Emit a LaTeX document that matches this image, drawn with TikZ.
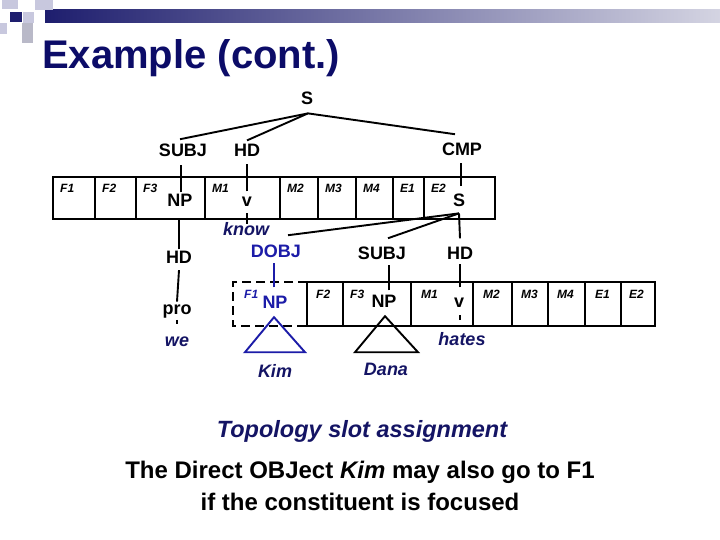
\documentclass[tikz,border=0pt]{standalone}
\usepackage{fontspec}
\setmainfont{Liberation Sans}
\definecolor{navy}{RGB}{20,20,100}
\definecolor{titlec}{RGB}{12,12,104}
\definecolor{dblue}{RGB}{28,28,168}
\definecolor{sqlight}{RGB}{200,200,222}
\definecolor{sqmid}{RGB}{125,125,168}
\definecolor{sqdark}{RGB}{30,30,110}
\definecolor{sqgray}{RGB}{185,185,200}
\definecolor{barend}{RGB}{212,212,226}
\begin{document}
\begin{tikzpicture}[x=1pt,y=-1pt,
 lab/.style={font=\bfseries\fontsize{18}{20}\selectfont, inner sep=0pt, anchor=base},
 cellt/.style={font=\bfseries\itshape\fontsize{12}{13}\selectfont, inner sep=0pt, anchor=base west},
 word/.style={font=\bfseries\itshape\fontsize{18}{20}\selectfont, text=navy, inner sep=0pt, anchor=base},
 edge/.style={line width=1.9pt},
 boxline/.style={line width=1.9pt},
]
\useasboundingbox (0,0) rectangle (720,540);
\fill[white] (0,0) rectangle (720,540);
% header decoration
\shade[left color=sqdark, middle color=sqmid, right color=barend] (45,10) rectangle (720,23);
\fill[sqlight] (2,0) rectangle (18,9);
\fill[sqlight] (35,0) rectangle (53,10);
\fill[sqdark] (10,12) rectangle (22,22);
\fill[sqlight] (23,12) rectangle (34,23);
\fill[sqlight] (0,23) rectangle (7,34);
\fill[sqgray] (22,23) rectangle (33,43);

% title
\node[font=\bfseries\fontsize{40}{44}\selectfont, text=titlec, inner sep=0pt, anchor=base west] (title) at (42,69) {Example (cont.)};

% upper tree
\node[lab] (S) at (307,105) {S};
\node[lab] (subjA) at (183,157) {SUBJ};
\node[lab] (hdA) at (247,157) {HD};
\node[lab] (cmp) at (462,156) {CMP};
\coordinate (apexA) at ([xshift=1pt,yshift=-8pt]S.south);
\draw[edge] ([yshift=5pt,xshift=-3pt]subjA.north) -- (apexA) -- ([xshift=-7pt,yshift=9pt]cmp.north);
\draw[edge] (apexA) -- ([yshift=4pt]hdA.north);

% upper topology row
\draw[boxline] (53,177) rectangle (495,219);
\foreach \x in {95,136,205,280,318,356,393,424} \draw[boxline] (\x,177) -- (\x,219);
\foreach \t/\x in {F1/53,F2/95,F3/136,M1/205,M2/280,M3/318,M4/356,E1/393,E2/424}
  \node[cellt] (up\t) at (\x+7,193) {\t};

\node[lab] (npA) at (180,207) {NP};
\node[lab] (vA) at (247,207) {v};
\node[lab] (sB) at (459,207) {S};
\draw[edge] ([xshift=1pt,yshift=2pt]npA.north) -- ([xshift=1pt,yshift=29pt]npA.north);
\draw[edge] ([yshift=6pt]vA.north) -- ([yshift=33pt]vA.north);
\draw[edge] ([xshift=2pt,yshift=8pt]sB.north) -- ([xshift=2pt,yshift=31pt]sB.north);

% left branch: HD - pro - we
\node[lab] (hdL) at (179,263) {HD};
\node[lab] (proN) at (177,314) {pro};
\node[word] (weN) at (177,346) {we};
\draw[edge] ([yshift=1pt]hdL.north) -- ([yshift=31pt]hdL.north);
\draw[edge] ([yshift=-7pt]hdL.south) -- ([yshift=2.5pt]proN.north);
\draw[edge] ([yshift=-2pt]proN.south) -- ([yshift=-6pt]proN.south);

% know
\node[word] (knowN) at (246,236) {know};
\draw[edge] ([yshift=-6pt]vA.south) -- ([yshift=-17pt]vA.south);

% lower tree
\coordinate (apexB) at ([yshift=-6pt]sB.south);
\node[lab, text=dblue] (dobj) at (276,257) {DOBJ};
\node[lab] (subjB) at (382,259) {SUBJ};
\node[lab] (hdB) at (460,259) {HD};
\draw[edge] (apexB) -- ([xshift=12pt,yshift=9pt]dobj.north);
\draw[edge] (apexB) -- ([xshift=6pt,yshift=8pt]subjB.north);
\draw[edge] (apexB) -- ([yshift=8pt]hdB.north);

% lower topology row
\draw[boxline, dashed, dash pattern=on 9pt off 5pt] (307,282) -- (233,282) -- (233,326) -- (307,326);
\draw[boxline] (307,282) rectangle (655,326);
\foreach \x in {343,411,473,512,548,585,621} \draw[boxline] (\x,282) -- (\x,326);
\node[cellt, text=dblue] (loF1) at (244,298) {F1};
\foreach \t/\x in {F2/316,F3/350,M1/421,M2/483,M3/521,M4/557,E1/595,E2/629}
  \node[cellt] (lo\t) at (\x,298) {\t};

\node[lab, text=dblue] (npBlue) at (275,308) {NP};
\node[lab] (npB) at (384,307) {NP};
\node[lab] (vB) at (459,307) {v};
\draw[edge, dblue] ([xshift=-1pt,yshift=8pt]npBlue.north) -- ([xshift=-1pt,yshift=32pt]npBlue.north);
\draw[edge] ([xshift=5pt,yshift=4pt]npB.north) -- ([xshift=5pt,yshift=29pt]npB.north);
\draw[edge] ([xshift=1pt,yshift=10pt]vB.north) -- ([xshift=1pt,yshift=33pt]vB.north);
\draw[edge] ([xshift=1pt,yshift=-8pt]vB.south) -- ([xshift=1pt,yshift=-13pt]vB.south);

% triangles
\coordinate (kimTop) at ([xshift=-1pt,yshift=-9pt]npBlue.south);
\draw[edge, dblue, line join=miter] (kimTop) -- ++(-29,35) -- ++(60,0) -- cycle;
\coordinate (danaTop) at ([xshift=1pt,yshift=-9pt]npB.south);
\draw[edge, line join=miter] (danaTop) -- ++(-30,36) -- ++(63,0) -- cycle;

\node[word] (kimN) at (275,377) {Kim};
\node[word] (danaN) at (386,375) {Dana};
\node[word] (hatesN) at (462,345) {hates};

% bottom text
\node[font=\bfseries\itshape\fontsize{23.5}{26}\selectfont, text=navy, inner sep=0pt, anchor=base] (topo) at (362,437) {Topology slot assignment};
\node[font=\bfseries\fontsize{24}{26}\selectfont, inner sep=0pt, anchor=base] (line1) at (360,478) {The Direct OBJect \textit{Kim} may also go to F1};
\node[font=\bfseries\fontsize{24}{26}\selectfont, inner sep=0pt, anchor=base] (line2) at (360,510) {if the constituent is focused};
\end{tikzpicture}
\end{document}
